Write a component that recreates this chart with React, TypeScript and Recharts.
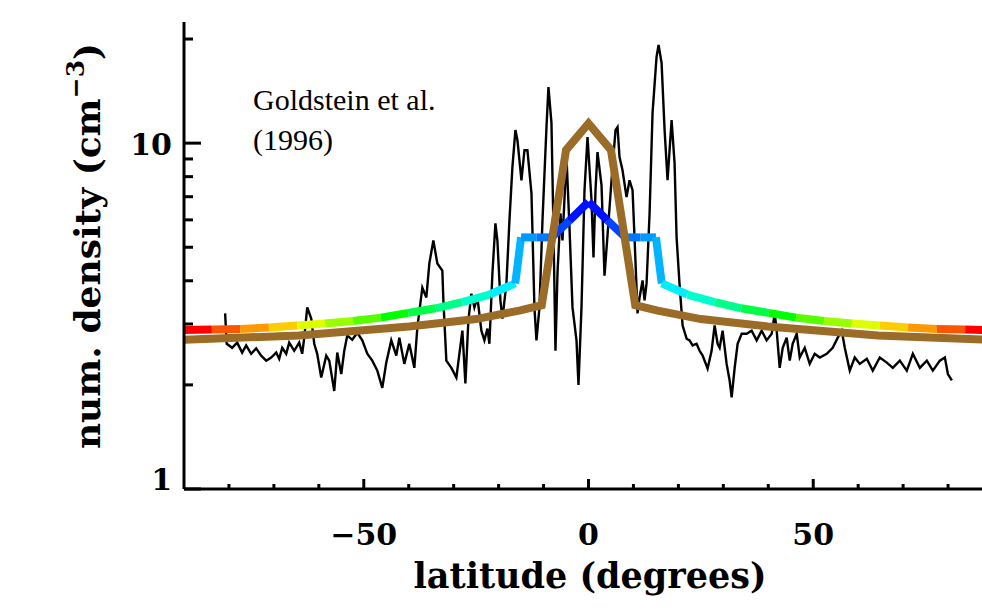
import React from 'react';
import { LineChart, Line, XAxis, YAxis } from 'recharts';

// observed density (black trace)
const obsLat = [
  -80.85, -80.5, -79.29, -78.17, -77.06, -76.17, -75.06, -73.94, -72.83, -71.71,
  -70.6, -69.49, -68.82, -68.15, -67.26, -66.59, -65.48, -64.37, -63.7, -63.25,
  -62.58, -61.69, -61.02, -60.36, -59.47, -58.35, -57.68, -56.57, -55.9, -55.01,
  -54.34, -53.67, -52.56, -51.45, -50.33, -49.22, -48.11, -46.99, -45.88, -44.99,
  -43.88, -42.76, -42.09, -40.98, -39.87, -38.75, -38.08, -36.97, -36.08, -35.41,
  -34.52, -33.63, -32.52, -32.29, -31.63, -30.51, -29.4, -28.73, -28.06, -27.39,
  -26.73, -26.06, -25.39, -24.72, -23.83, -23.16, -22.49, -22.05, -21.38, -20.71,
  -20.27, -19.6, -19.15, -18.26, -17.59, -16.93, -16.26, -15.81, -14.92, -14.25,
  -13.59, -12.69, -12.03, -11.58, -10.91, -10.24, -9.35, -8.91, -8.24, -7.8,
  -7.35, -6.9, -6.24, -5.79, -4.9, -4.23, -3.56, -2.67, -2.23, -1.56,
  -0.89, -0.22, 0.67, 1.11, 1.56, 2.0, 2.9, 3.56, 4.23, 5.12,
  6.01, 6.46, 6.9, 7.57, 8.46, 9.13, 9.8, 10.24, 10.91, 11.36,
  12.03, 12.47, 12.92, 13.59, 14.25, 15.14, 15.59, 16.26, 16.93, 17.59,
  18.49, 19.15, 19.6, 20.27, 20.94, 21.83, 22.49, 23.16, 24.05, 24.72,
  25.39, 26.5, 27.39, 28.06, 28.73, 29.18, 29.84, 30.73, 31.4, 31.85,
  32.52, 33.18, 34.08, 35.19, 36.3, 37.42, 38.53, 39.64, 40.76, 41.43,
  41.87, 42.54, 43.21, 44.1, 44.77, 45.43, 46.33, 47.0, 48.11, 49.22,
  50.33, 51.45, 53.01, 54.34, 55.46, 56.35, 57.02, 58.13, 59.24, 60.36,
  61.92, 63.25, 64.81, 66.37, 67.71, 69.27, 70.82, 72.16, 73.72, 75.28,
  76.61, 78.17, 79.29, 79.96, 80.85,
];
const obsDensity = [
  3.22, 2.63, 2.56, 2.65, 2.48, 2.6, 2.46, 2.55, 2.43, 2.35,
  2.4, 2.48, 2.38, 2.56, 2.46, 2.65, 2.51, 2.65, 2.46, 2.74,
  3.35, 3.11, 2.63, 2.46, 2.1, 2.43, 2.35, 1.92, 2.48, 2.15,
  2.51, 2.78, 2.7, 2.83, 2.69, 2.46, 2.35, 2.2, 1.96, 2.32,
  2.69, 2.43, 2.74, 2.3, 2.63, 2.24, 2.93, 3.82, 3.58, 4.49,
  5.23, 4.49, 4.28, 3.51, 2.35, 2.24, 2.1, 2.46, 2.87, 2.02,
  3.07, 3.67, 3.35, 3.58, 2.87, 2.69, 2.91, 2.63, 4.2, 5.86,
  5.23, 3.51, 3.11, 3.93, 5.98, 8.52, 10.91, 10.2, 7.81, 9.54,
  9.54, 7.16, 3.35, 2.69, 3.35, 5.98, 11.13, 14.53, 11.43, 5.71,
  2.51, 4.2, 6.27, 5.23, 9.11, 5.71, 3.35, 2.69, 2.0, 3.35,
  7.31, 10.41, 6.84, 4.67, 7.31, 9.42, 7.55, 4.14, 5.41, 7.81,
  10.91, 11.13, 9.11, 8.35, 6.98, 7.81, 7.31, 5.34, 3.22, 3.58,
  4.01, 3.51, 3.93, 6.27, 12.22, 17.76, 19.23, 17.05, 10.91, 7.81,
  11.66, 8.75, 5.34, 3.88, 2.97, 2.72, 2.69, 2.6, 2.63, 2.51,
  2.43, 2.23, 2.51, 2.97, 2.63, 2.56, 2.87, 2.3, 2.06, 1.84,
  2.24, 2.63, 2.81, 2.81, 2.87, 2.69, 2.87, 2.69, 2.81, 3.22,
  2.87, 2.24, 2.56, 2.74, 2.35, 2.63, 2.81, 2.4, 2.56, 2.3,
  2.46, 2.4, 2.46, 2.56, 2.74, 2.87, 2.56, 2.2, 2.4, 2.3,
  2.38, 2.2, 2.4, 2.32, 2.24, 2.35, 2.2, 2.46, 2.24, 2.35,
  2.2, 2.35, 2.4, 2.15, 2.06,
];

// colour-coded model
const modelLat = [
  -90, -83.8, -77.5, -71.1, -64.8, -58.6, -52.4, -46.2, -40.1, -34.0,
  -28.1, -22.0, -16.3, -15.0, -11.6, -8.2, -4.2, 0,
  4.2, 8.2, 11.6, 15.0, 16.3, 22.0, 28.1, 34.0, 40.1, 46.2,
  52.4, 58.6, 64.8, 71.1, 77.5, 83.8, 90,
];
const modelDensity = [
  2.88, 2.89, 2.9, 2.93, 2.97, 3.01, 3.06, 3.13, 3.23, 3.33,
  3.47, 3.65, 3.93, 5.34, 5.34, 5.34, 5.98, 6.76,
  5.98, 5.34, 5.34, 5.34, 3.93, 3.65, 3.47, 3.33, 3.23, 3.13,
  3.06, 3.01, 2.97, 2.93, 2.9, 2.89, 2.88,
];
const modelColors = [
  '#ff0000', '#ff5500', '#ff9900', '#ffcc00', '#ddff00', '#99ff00', '#55ff00', '#00ff00', '#00ff44', '#00ff88',
  '#00ffcc', '#00eeff', '#00b4ff', '#0099ff', '#0077ff', '#0044ff', '#0011ff',
  '#0011ff', '#0044ff', '#0077ff', '#0099ff', '#00b4ff', '#00eeff', '#00ffcc', '#00ff88', '#00ff44',
  '#00ff00', '#55ff00', '#99ff00', '#ddff00', '#ffcc00', '#ff9900', '#ff5500', '#ff0000',
];

// Goldstein et al. (1996) profile
const goldLat = [-90, -64.4, -39.9, -25, -15.4, -10.4, -5, 0, 5, 10.4, 15.4, 25, 39.9, 64.4, 90];
const goldDensity = [2.7, 2.78, 2.95, 3.1, 3.28, 3.4, 9.55, 11.4, 9.55, 3.4, 3.28, 3.1, 2.95, 2.78, 2.7];

const xTicks = [-80, -70, -60, -50, -40, -30, -20, -10, 0, 10, 20, 30, 40, 50, 60, 70, 80];
const xLabeled = [-50, 0, 50];
const yTicks = [1, 2, 3, 4, 5, 6, 7, 8, 9, 10, 20];
const yLabeled = [1, 10];

const obsData = obsLat.map((x, i) => ({ x, y: obsDensity[i] }));
const goldData = goldLat.map((x, i) => ({ x, y: goldDensity[i] }));
const segments = modelColors.map((color, i) => ({
  color,
  data: [
    { x: modelLat[i], y: modelDensity[i] },
    { x: modelLat[i + 1], y: modelDensity[i + 1] },
  ],
}));

const boldSerif = { fontFamily: '"DejaVu Serif", serif', fontWeight: 700 } as const;
const fmt = (v: number) => (v < 0 ? '\u2212' + Math.abs(v) : String(v));

function BottomTick({ x, y, payload }: any) {
  const major = xLabeled.includes(payload.value);
  return (
    <g>
      <line x1={x} x2={x} y1={y} y2={y - (major ? 10 : 5)} stroke="#000" strokeWidth={3} />
      {major && (
        <text x={x} y={y + 56} textAnchor="middle" fontSize={30} fill="#000" {...boldSerif}>
          {fmt(payload.value)}
        </text>
      )}
    </g>
  );
}

function TopTick({ x, y, payload }: any) {
  const major = xLabeled.includes(payload.value);
  return <line x1={x} x2={x} y1={y} y2={y + (major ? 10 : 5)} stroke="#000" strokeWidth={3} />;
}

function LeftTick({ x, y, payload }: any) {
  const major = yLabeled.includes(payload.value);
  return (
    <g>
      <line x1={x} x2={x + (major ? 17 : 9)} y1={y} y2={y} stroke="#000" strokeWidth={3} />
      {major && (
        <text x={x - 12} y={payload.value === 1 ? y + 1 : y + 12} textAnchor="end" fontSize={30} fill="#000" {...boldSerif}>
          {payload.value}
        </text>
      )}
    </g>
  );
}

function RightTick({ x, y, payload }: any) {
  const major = yLabeled.includes(payload.value);
  return <line x1={x} x2={x - (major ? 17 : 9)} y1={y} y2={y} stroke="#000" strokeWidth={3} />;
}

function Titles() {
  return (
    <g>
      <text transform="rotate(-90)" x={-246} y={100} textAnchor="middle" fontSize={36} fill="#000" {...boldSerif}>
        num. density (cm<tspan dy={-16} fontSize={25}>{'\u22123'}</tspan>
        <tspan dy={16}>)</tspan>
      </text>
      <text x={590} y={588} textAnchor="middle" fontSize={35} fill="#000" {...boldSerif}>
        latitude (degrees)
      </text>
      <text x={253} y={110} fontSize={30} fill="#000" fontFamily='"Liberation Serif", serif'>
        Goldstein et al.
      </text>
      <text x={253} y={150} fontSize={30} fill="#000" fontFamily='"Liberation Serif", serif'>
        (1996)
      </text>
    </g>
  );
}

export default function App() {
  return (
    <div style={{ position: 'absolute', left: 0, top: 0, width: 982, height: 613, overflow: 'hidden', background: '#fff' }}>
      <LineChart width={1010} height={613} margin={{ top: 22, right: 17, left: 124, bottom: 64 }}>
        <XAxis
          dataKey="x"
          type="number"
          domain={[-90, 90]}
          allowDataOverflow
          ticks={xTicks}
          interval={0}
          height={60}
          tickSize={0}
          tickMargin={0}
          tickLine={false}
          tick={<BottomTick />}
          axisLine={{ stroke: '#000', strokeWidth: 3 }}
        />
        <XAxis
          xAxisId="top"
          orientation="top"
          dataKey="x"
          type="number"
          domain={[-90, 90]}
          allowDataOverflow
          ticks={xTicks}
          interval={0}
          height={0}
          tickSize={0}
          tickMargin={0}
          tickLine={false}
          tick={<TopTick />}
          axisLine={{ stroke: '#000', strokeWidth: 3 }}
        />
        <YAxis
          type="number"
          scale="log"
          domain={[1, 22.4]}
          allowDataOverflow
          ticks={yTicks}
          interval={0}
          width={60}
          tickSize={0}
          tickMargin={0}
          tickLine={false}
          tick={<LeftTick />}
          axisLine={{ stroke: '#000', strokeWidth: 3 }}
          label={<Titles />}
        />
        <YAxis
          yAxisId="right"
          orientation="right"
          type="number"
          scale="log"
          domain={[1, 22.4]}
          allowDataOverflow
          ticks={yTicks}
          interval={0}
          width={0}
          tickSize={0}
          tickMargin={0}
          tickLine={false}
          tick={<RightTick />}
          axisLine={{ stroke: '#000', strokeWidth: 3 }}
        />
        <Line
          data={obsData}
          dataKey="y"
          type="linear"
          stroke="#000"
          strokeWidth={2.4}
          dot={false}
          activeDot={false}
          isAnimationActive={false}
        />
        {segments.map((s, i) => (
          <Line
            key={'seg' + i}
            data={s.data}
            dataKey="y"
            type="linear"
            stroke={s.color}
            strokeWidth={8}
            strokeLinecap="butt"
            dot={false}
            activeDot={false}
            isAnimationActive={false}
          />
        ))}
        <Line
          data={goldData}
          dataKey="y"
          type="linear"
          stroke="#9b6b28"
          strokeWidth={8}
          dot={false}
          activeDot={false}
          isAnimationActive={false}
        />
      </LineChart>
    </div>
  );
}
